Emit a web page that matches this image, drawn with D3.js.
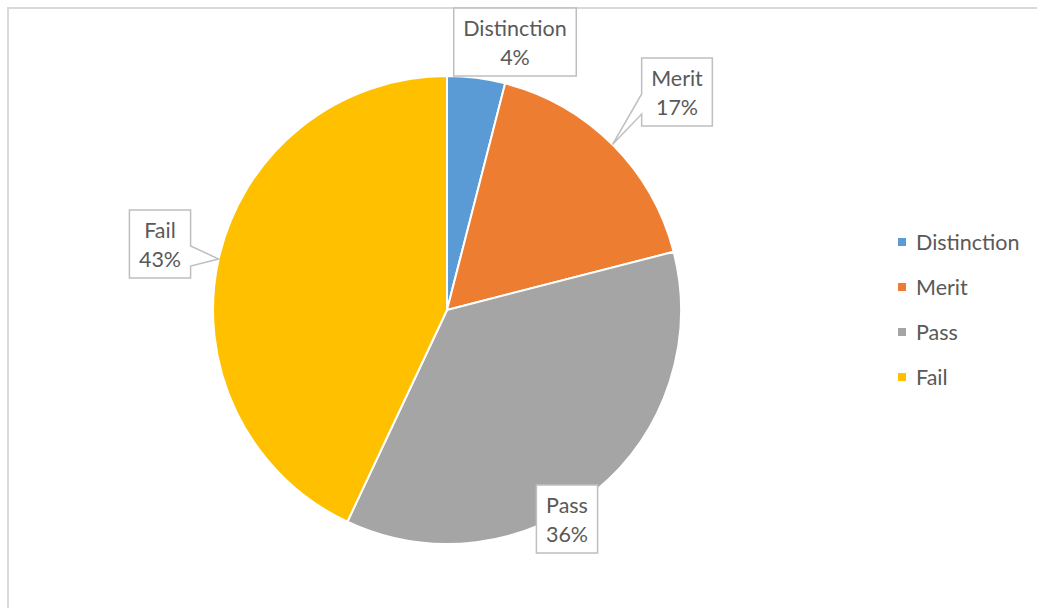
<!DOCTYPE html>
<html>
<head>
<meta charset="utf-8">
<script src="https://cdn.jsdelivr.net/npm/d3@7"></script>
<style>
  body { margin: 0; background: #fff; }
  text { font-family: Lato, "Noto Sans", sans-serif; }
</style>
</head>
<body>
<div id="chart"></div>
<script>
const categories = ["Distinction", "Merit", "Pass", "Fail"];
const values = [4, 17, 36, 43];
const colors = ["#5b9bd5", "#ed7d31", "#a5a5a5", "#ffc000"];

// label box centres relative to pie centre; pointer = draw callout wedge
const labelLayout = {
    Distinction: { dx: 68, dy: -268, pointer: false },
    Merit: { dx: 230, dy: -218, pointer: true },
    Pass: { dx: 120, dy: 209, pointer: false },
    Fail: { dx: -287, dy: -66, pointer: true }
};

const width = 1037, height = 608;
const cx = 447, cy = 310, radius = 234;
const fontSize = "21.5px";

const svg = d3.select("#chart").append("svg")
    .attr("width", width)
    .attr("height", height);

// chart area border (right/bottom fall outside the picture)
svg.append("rect")
    .attr("x", 8).attr("y", 8)
    .attr("width", 1200).attr("height", 800)
    .attr("fill", "#fff")
    .attr("stroke", "#d9d9d9")
    .attr("stroke-width", 2);

const data = categories.map((c, i) => ({ name: c, value: values[i] }));
const total = d3.sum(values);
const pct = d3.format(".0%");

const color = d3.scaleOrdinal().domain(categories).range(colors);

const pie = d3.pie().sort(null).value(d => d.value);
const arcs = pie(data);
const arc = d3.arc().innerRadius(0).outerRadius(radius);

const g = svg.append("g").attr("transform", `translate(${cx},${cy})`);

g.selectAll("path.slice")
    .data(arcs)
    .enter()
    .append("path")
    .attr("class", "slice")
    .attr("d", arc)
    .attr("fill", d => color(d.data.name))
    .attr("stroke", "#fff")
    .attr("stroke-width", 2)
    .attr("stroke-linejoin", "round");

// data labels with callout boxes
const labels = g.selectAll("g.label")
    .data(arcs)
    .enter()
    .append("g")
    .attr("class", "label");

labels.each(function(d) {
    const lay = labelLayout[d.data.name];
    const node = d3.select(this);
    const box = node.append("path");
    const t1 = node.append("text")
        .attr("x", lay.dx).attr("y", lay.dy - 14)
        .attr("text-anchor", "middle")
        .attr("dominant-baseline", "central")
        .style("font-size", fontSize)
        .style("fill", "#595959")
        .text(d.data.name);
    const t2 = node.append("text")
        .attr("x", lay.dx).attr("y", lay.dy + 15)
        .attr("text-anchor", "middle")
        .attr("dominant-baseline", "central")
        .style("font-size", fontSize)
        .style("fill", "#595959")
        .text(pct(d.data.value / total));

    const w = Math.max(t1.node().getComputedTextLength(), t2.node().getComputedTextLength()) + 19;
    const h = 68;
    const x0 = lay.dx - w / 2, x1 = lay.dx + w / 2;
    const y0 = lay.dy - h / 2, y1 = lay.dy + h / 2;

    let p;
    if (lay.pointer) {
        const mid = (d.startAngle + d.endAngle) / 2;
        const tx = Math.sin(mid) * radius, ty = -Math.cos(mid) * radius;
        const b0 = lay.dy + 2, b1 = lay.dy + 22;
        if (tx < x0) {
            p = `M${x0},${y0}H${x1}V${y1}H${x0}V${b1}L${tx},${ty}L${x0},${b0}Z`;
        } else {
            p = `M${x0},${y0}H${x1}V${b0}L${tx},${ty}L${x1},${b1}V${y1}H${x0}Z`;
        }
    } else {
        p = `M${x0},${y0}H${x1}V${y1}H${x0}Z`;
    }
    box.attr("d", p)
        .attr("fill", "#fff")
        .attr("stroke", "#bfbfbf")
        .attr("stroke-width", 1.5);
});

// legend
const legend = svg.append("g")
    .attr("transform", "translate(898,242)");

const rows = legend.selectAll("g")
    .data(categories)
    .enter()
    .append("g")
    .attr("transform", (d, i) => `translate(0,${i * 45})`);

rows.append("rect")
    .attr("x", 0).attr("y", -4)
    .attr("width", 8).attr("height", 8)
    .attr("fill", d => color(d));

rows.append("text")
    .attr("x", 18).attr("y", 0)
    .attr("dominant-baseline", "central")
    .style("font-size", fontSize)
    .style("fill", "#595959")
    .text(d => d);
</script>
</body>
</html>
